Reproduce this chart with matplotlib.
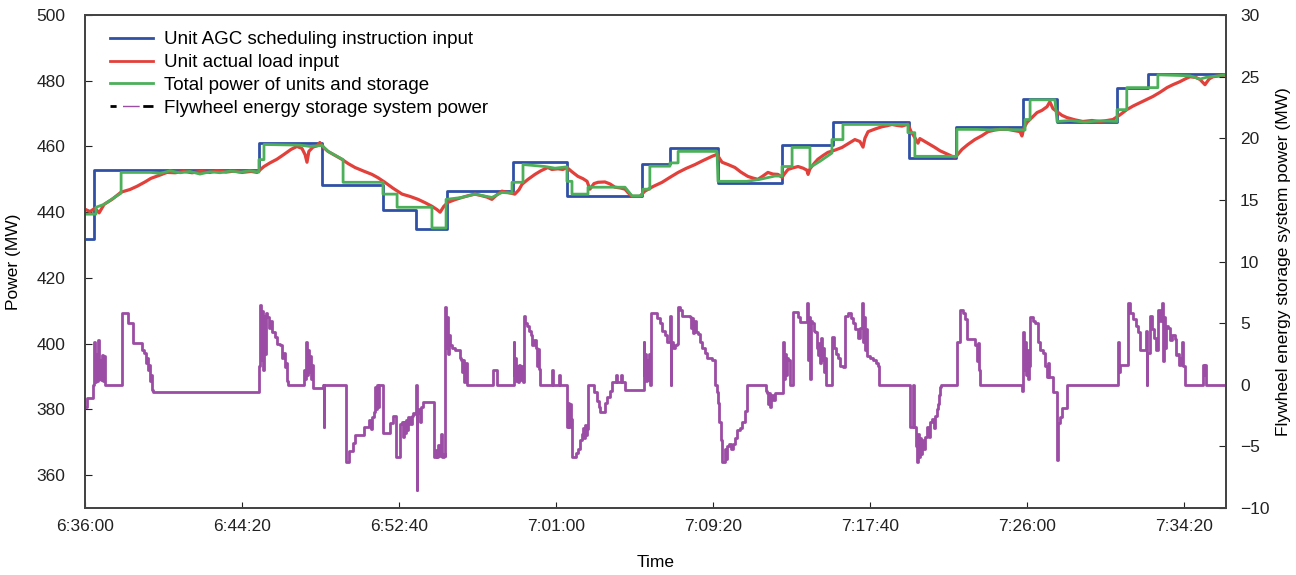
import matplotlib
matplotlib.use("Agg")
import matplotlib.pyplot as plt
from matplotlib.lines import Line2D
from matplotlib.ticker import FuncFormatter, MultipleLocator

plt.rcParams["font.family"] = ["Liberation Sans", "DejaVu Sans"]
plt.rcParams["font.size"] = 12.5

# --- data (time = seconds after 6:36:00) -----------------------------------
agc_t = [0, 29, 554, 755, 949, 1054, 1153, 1363, 1535, 1774, 1863, 2016, 2220,
         2382, 2624, 2774, 2987, 3096, 3287, 3385, 3634]
agc_p = [431.8, 452.7, 461.2, 448.2, 440.6, 434.8, 446.4, 455.2, 444.8, 454.8,
         459.4, 449.0, 460.4, 467.3, 456.4, 466.0, 474.5, 467.3, 477.9, 482.1, 482.1]

load_t = [0, 16, 32, 45, 61, 86, 115, 143, 166, 191, 210, 239, 261, 287, 315, 341,
          369, 398, 420, 449, 475, 500, 529, 548, 570, 589, 611, 634, 656, 675, 691,
          701, 707, 713, 726, 739, 748, 761, 774, 796, 818, 838, 860, 885, 914, 933,
          955, 981, 1010, 1035, 1061, 1083, 1105, 1121, 1131, 1143, 1156, 1178, 1201,
          1220, 1242, 1264, 1280, 1296, 1312, 1328, 1347, 1369, 1382, 1392, 1411, 1433,
          1452, 1474, 1487, 1506, 1522, 1535, 1551, 1570, 1586, 1599, 1608, 1621, 1634,
          1656, 1672, 1688, 1704, 1720, 1729, 1742, 1767, 1783, 1809, 1838, 1863, 1889,
          1914, 1943, 1968, 1997, 2013, 2022, 2029, 2048, 2070, 2089, 2111, 2127, 2143,
          2159, 2175, 2191, 2207, 2220, 2229, 2239, 2255, 2271, 2287, 2299, 2303, 2309,
          2322, 2334, 2350, 2366, 2389, 2411, 2430, 2452, 2468, 2478, 2484, 2494, 2516,
          2538, 2554, 2570, 2586, 2602, 2621, 2631, 2643, 2653, 2659, 2675, 2691, 2707,
          2723, 2739, 2755, 2761, 2771, 2780, 2793, 2812, 2834, 2857, 2876, 2898, 2914,
          2939, 2962, 2978, 2984, 2990, 3000, 3016, 3032, 3048, 3064, 3073, 3083, 3096,
          3111, 3127, 3153, 3178, 3207, 3232, 3255, 3274, 3296, 3318, 3338, 3360, 3382,
          3401, 3424, 3446, 3465, 3487, 3503, 3519, 3538, 3551, 3567, 3580, 3592, 3615,
          3634]
load_p = [440.9, 440.2, 441.2, 439.8, 442.4, 443.9, 446.1, 446.9, 447.9, 449.2, 450.3,
          451.3, 452.1, 452.0, 452.4, 452.0, 452.4, 452.1, 452.6, 452.2, 452.5, 452.1,
          452.4, 452.1, 453.9, 455.0, 456.1, 457.6, 459.1, 460.0, 459.4, 457.5, 455.2,
          458.5, 459.8, 460.2, 461.2, 459.6, 458.5, 457.3, 456.1, 454.8, 453.6, 452.6,
          451.5, 450.5, 449.1, 447.3, 445.5, 444.8, 443.9, 442.9, 441.8, 440.8, 440.0,
          441.8, 443.0, 443.8, 444.5, 445.0, 445.5, 445.0, 444.6, 443.9, 445.3, 446.4,
          446.0, 445.5, 446.8, 448.5, 450.0, 451.5, 452.6, 453.6, 453.0, 453.2, 453.0,
          453.6, 452.3, 450.9, 450.2, 449.4, 447.0, 448.7, 449.1, 449.2, 448.6, 447.6,
          447.4, 447.0, 446.0, 444.8, 444.8, 446.4, 447.8, 449.1, 450.6, 452.1, 453.3,
          454.5, 455.7, 457.0, 457.6, 456.2, 455.2, 454.5, 453.6, 452.2, 450.9, 450.4,
          450.0, 451.0, 452.1, 451.6, 451.5, 450.6, 451.8, 453.0, 453.5, 453.9, 453.4,
          452.8, 451.5, 453.2, 454.8, 456.1, 457.2, 458.2, 458.9, 459.7, 460.8, 462.1,
          461.5, 459.8, 462.5, 464.5, 465.3, 466.0, 466.3, 466.7, 466.4, 466.2, 466.8,
          464.5, 462.7, 461.0, 462.4, 461.5, 460.6, 459.7, 458.7, 458.0, 457.3, 457.0,
          456.8, 457.6, 459.1, 460.6, 462.1, 463.3, 464.5, 465.0, 465.2, 465.2, 464.8,
          464.5, 463.2, 465.5, 467.3, 468.8, 470.3, 471.0, 472.1, 473.6, 471.5, 470.6,
          469.5, 468.8, 468.1, 467.6, 467.9, 467.6, 467.9, 468.2, 469.6, 471.2, 472.3,
          473.3, 474.3, 475.2, 476.5, 477.9, 478.8, 479.7, 480.5, 481.2, 481.0, 480.4,
          478.8, 480.5, 481.2, 481.5, 481.8]

total_t = [0, 35, 35, 61, 86, 115, 115, 210, 239, 271, 303, 334, 366, 398, 430, 462,
           494, 525, 554, 554, 570, 570, 685, 717, 755, 774, 822, 822, 949, 949, 994,
           994, 1105, 1105, 1150, 1150, 1201, 1242, 1296, 1328, 1360, 1360, 1395, 1395,
           1465, 1497, 1535, 1535, 1551, 1551, 1602, 1602, 1720, 1742, 1774, 1777, 1799,
           1799, 1863, 1863, 1889, 1889, 2013, 2016, 2108, 2150, 2197, 2220, 2220, 2252,
           2252, 2309, 2309, 2341, 2379, 2379, 2414, 2414, 2621, 2621, 2643, 2643, 2777,
           2777, 2844, 2882, 2914, 2994, 2994, 3010, 3010, 3089, 3096, 3137, 3185, 3232,
           3287, 3287, 3318, 3318, 3417, 3417, 3519, 3551, 3570, 3634]
total_p = [439.4, 439.4, 441.5, 442.4, 444.0, 445.8, 452.1, 452.1, 451.8, 452.6, 452.0,
           452.4, 451.6, 452.3, 452.0, 452.5, 452.2, 452.6, 452.2, 456.0, 456.0, 460.6,
           460.4, 460.0, 460.3, 458.5, 456.0, 449.1, 449.1, 445.5, 445.5, 441.5, 441.5,
           435.2, 435.2, 443.9, 444.5, 445.5, 444.5, 446.0, 445.8, 449.1, 449.1, 454.5,
           453.9, 453.4, 453.8, 449.4, 449.4, 445.5, 445.5, 447.6, 447.6, 445.0, 445.0,
           447.0, 447.0, 454.0, 454.0, 455.0, 455.0, 458.5, 458.5, 449.4, 449.4, 450.0,
           451.0, 451.0, 453.9, 453.9, 459.7, 459.7, 453.6, 455.5, 458.0, 462.1, 462.1,
           466.7, 466.7, 464.2, 464.2, 457.0, 457.0, 465.2, 465.2, 465.0, 465.2, 465.0,
           468.2, 468.2, 474.2, 474.2, 467.6, 467.9, 467.4, 467.8, 467.6, 471.2, 471.2,
           477.9, 477.9, 481.8, 481.5, 480.5, 481.0, 481.8]

fly_t = [0, 6, 6, 25, 25, 29, 32, 35, 38, 41, 45, 48, 51, 54, 57, 61, 64, 118, 118,
         137, 137, 153, 153, 175, 182, 188, 194, 197, 201, 204, 207, 210, 213, 217, 551,
         554, 557, 561, 564, 567, 570, 573, 576, 580, 586, 589, 596, 605, 611, 621, 627,
         631, 637, 640, 643, 646, 694, 697, 701, 704, 707, 710, 713, 717, 720, 723, 726,
         755, 758, 760, 761, 828, 830, 831, 838, 841, 850, 854, 860, 861, 885, 889, 901,
         904, 911, 914, 920, 924, 927, 930, 933, 936, 949, 950, 968, 971, 978, 981, 987,
         990, 1000, 1003, 1010, 1013, 1016, 1019, 1022, 1025, 1029, 1035, 1041, 1045,
         1051, 1054, 1056, 1057, 1064, 1067, 1070, 1076, 1108, 1111, 1118, 1121, 1124,
         1131, 1134, 1137, 1143, 1146, 1148, 1150, 1153, 1156, 1159, 1162, 1169, 1178,
         1188, 1194, 1197, 1201, 1204, 1207, 1210, 1217, 1296, 1299, 1309, 1312, 1363,
         1365, 1366, 1369, 1373, 1376, 1379, 1382, 1385, 1392, 1395, 1397, 1401, 1408,
         1414, 1420, 1424, 1430, 1436, 1439, 1443, 1446, 1449, 1484, 1487, 1490, 1506,
         1510, 1513, 1535, 1536, 1538, 1541, 1545, 1548, 1551, 1561, 1564, 1570, 1576,
         1583, 1586, 1589, 1592, 1596, 1599, 1602, 1618, 1621, 1631, 1637, 1640, 1653,
         1656, 1662, 1672, 1678, 1688, 1691, 1694, 1704, 1707, 1710, 1720, 1777, 1779,
         1780, 1783, 1787, 1790, 1793, 1796, 1799, 1802, 1818, 1822, 1831, 1838, 1847,
         1854, 1860, 1863, 1865, 1866, 1873, 1879, 1885, 1889, 1895, 1901, 1920, 1927,
         1930, 1933, 1936, 1939, 1946, 1952, 1959, 1965, 1975, 1981, 1997, 2006, 2013,
         2016, 2019, 2025, 2029, 2035, 2038, 2041, 2045, 2051, 2057, 2064, 2070, 2076,
         2086, 2092, 2102, 2108, 2110, 2166, 2169, 2172, 2175, 2178, 2182, 2185, 2191,
         2197, 2220, 2223, 2226, 2229, 2232, 2236, 2239, 2245, 2255, 2256, 2271, 2277,
         2287, 2299, 2303, 2306, 2309, 2312, 2315, 2322, 2325, 2331, 2334, 2338, 2341,
         2344, 2347, 2350, 2354, 2357, 2360, 2369, 2379, 2385, 2392, 2398, 2404, 2414,
         2420, 2430, 2439, 2446, 2452, 2462, 2468, 2475, 2478, 2481, 2484, 2487, 2490,
         2500, 2510, 2519, 2525, 2529, 2627, 2628, 2634, 2637, 2640, 2646, 2650, 2653,
         2656, 2659, 2662, 2666, 2669, 2675, 2681, 2688, 2691, 2697, 2704, 2707, 2713,
         2717, 2720, 2723, 2726, 2777, 2778, 2787, 2788, 2796, 2803, 2809, 2828, 2834,
         2841, 2844, 2847, 2850, 2984, 2985, 2987, 2990, 2994, 2997, 3000, 3003, 3006,
         3010, 3019, 3025, 3035, 3041, 3051, 3057, 3064, 3067, 3070, 3083, 3092, 3096,
         3099, 3105, 3111, 3127, 3128, 3290, 3291, 3293, 3296, 3315, 3322, 3328, 3338,
         3347, 3353, 3360, 3376, 3379, 3381, 3382, 3392, 3398, 3404, 3411, 3417, 3424,
         3430, 3433, 3436, 3439, 3443, 3449, 3455, 3462, 3471, 3475, 3481, 3484, 3490,
         3494, 3497, 3503, 3560, 3561, 3564, 3567, 3570, 3634]
fly_p = [-1.8, -1.8, -1.1, -1.1, 0, 3.5, 0.2, 2.5, 0.3, 3.6, 0.5, 2.0, 0.4, 2.4, 0.3,
         2.3, 0, 0, 5.8, 5.8, 5.0, 5.0, 3.4, 3.4, 2.8, 2.6, 1.8, 2.2, 1.2, 1.6, 0.3, 0.8,
         -0.4, -0.6, -0.6, 1.5, 6.5, 2.0, 6.0, 1.2, 5.6, 2.5, 5.8, 5.5, 4.6, 5.2, 4.3,
         3.9, 3.3, 3.2, 2.2, 2.6, 1.4, 1.8, 0.3, 0, 0, 1.2, 0.5, 3.5, 0.8, 2.8, 1.0, 2.3,
         0.5, 1.6, -0.3, -0.3, 0, -3.4, 0, 0, -2.3, -6.3, -6.3, -5.4, -5.4, -4.7, -4.7,
         -4.1, -4.1, -3.4, -3.4, -2.9, -3.6, -2.6, -2.2, -0.2, -2.0, 0, -1.8, 0, 0, -3.9,
         -3.9, -3.1, -3.1, -2.5, -2.5, -5.9, -5.9, -3.2, -3.0, -4.2, -3.0, -3.9, -2.9,
         -3.7, -2.6, -3.2, -2.5, -2.3, -2.4, 0, -8.5, -2.3, -2.0, -3.0, -1.8, -1.4, -1.4,
         -5.9, -5.3, -5.9, -4.9, -5.8, -4.0, -5.9, -5.6, -5.8, 6.3, 3.0, 5.5, 2.5, 4.0,
         3.2, 3.0, 2.8, 2.8, 2.2, 2.0, 1.0, 2.0, 0.2, 1.8, 0, 0, 1.2, 1.2, 0, 0, 3.5, 0.8,
         2.2, 0.3, 1.5, 0.2, 1.6, 0.4, 1.5, 0.2, 5.6, 5.0, 4.8, 4.4, 4.0, 3.2, 3.6, 3.0,
         1.5, 2.9, 1.3, 0, 0, 1.2, 0, 0, 0.8, 0, 0, -3.4, -1.5, -3.4, -1.6, -2.8, -5.9,
         -5.9, -5.5, -5.2, -4.5, -4.0, -3.5, -4.3, -3.3, -4.1, -3.6, 0, 0, -0.6, -1.3,
         -1.8, -2.2, -2.2, -1.5, -1.0, -0.5, 0.2, 0.2, 0.8, 0.2, 0.2, 0.8, 0.2, -0.4,
         -0.4, 3.5, 0.8, 2.5, 0.3, 2.0, 0.4, 2.5, 0, 5.8, 5.8, 5.4, 5.0, 4.4, 4.0, 3.5,
         3.5, 5.6, 0, 3.5, 3.0, 3.2, 3.3, 6.3, 6.1, 5.6, 5.6, 5.5, 4.6, 5.4, 4.2, 5.2,
         4.3, 4.1, 3.5, 3.0, 2.6, 2.2, 2.0, 0, -0.6, -1.5, -3.0, -4.5, -6.3, -6.3, -5.2,
         -6.0, -5.0, -4.8, -5.2, -4.8, -4.3, -3.7, -3.5, -3.0, -2.1, -2.1, 0, 0, -0.5,
         -0.7, -1.6, -0.7, -1.8, -0.8, -1.2, -0.7, -0.7, 3.5, 0.5, 2.5, 0.8, 2.2, 2.0, 0,
         0, 5.9, 5.5, 5.1, 5.1, 6.6, 2.0, 5.5, 0.5, 5.2, 5.0, 4.4, 4.3, 3.0, 2.4, 3.4,
         1.8, 3.8, 2.0, 3.0, 1.0, 2.2, 0, 0, 3.9, 3.0, 2.5, 2.2, 1.5, 1.4, 5.6, 5.8, 5.4,
         5.0, 4.5, 3.8, 4.6, 6.6, 3.5, 5.5, 2.8, 4.5, 2.3, 2.2, 2.0, 1.8, 1.5, 0, 0, -3.4,
         -3.4, 0, -3.4, -5.0, -6.3, -4.0, -5.9, -4.3, -5.6, -4.5, -5.2, -4.2, -3.4, -4.2,
         -3.0, -2.8, -3.5, -2.5, -2.0, -1.6, -0.8, -0.2, 0, 0, 3.5, 3.5, 6.1, 5.8, 5.3,
         3.7, 3.7, 3.2, 1.9, 3.4, 1.2, 0, 0, -0.5, 4.3, 1.2, 3.5, 0.8, 2.8, 0.5, 1.5, 5.5,
         5.2, 5.0, 3.5, 2.8, 2.6, 1.5, 0.6, 1.8, 0.6, -0.6, -0.6, -6.1, -3.1, -2.6, -1.9,
         -1.9, 0, 0, 3.5, 1.0, 1.6, 1.6, 6.6, 5.8, 5.3, 4.8, 4.3, 2.8, 2.8, 4.4, 0, 2.6,
         5.6, 4.5, 3.8, 2.8, 6.1, 5.2, 6.6, 1.9, 5.5, 3.0, 4.8, 4.6, 3.6, 4.0, 3.7, 2.4,
         2.5, 1.6, 2.2, 3.5, 1.5, 0, 0, 1.6, 0.8, 1.6, 0, 0]

x_ticks = [0, 500, 1000, 1500, 2000, 2500, 3000, 3500]

C_BLUE = "#3050a6"
C_RED = "#e2403a"
C_GREEN = "#4caf5a"
C_PURPLE = "#9b4ca4"
C_FRAME = "#444444"


def clock(x, pos=None):
    s = int(round(6 * 3600 + 36 * 60 + x))
    return f"{s // 3600}:{(s % 3600) // 60:02d}:{s % 60:02d}"


fig = plt.figure(figsize=(12.96, 5.75), dpi=100)
ax = fig.add_axes([85 / 1296, 1 - 508 / 575, 1141 / 1296, 493 / 575])
ax2 = ax.twinx()

ax.step(agc_t, agc_p, where="post", color=C_BLUE, lw=2.0)
ax.plot(load_t, load_p, color=C_RED, lw=2.3)
ax.plot(total_t, total_p, color=C_GREEN, lw=2.0)
ax2.step(fly_t, fly_p, where="post", color=C_PURPLE, lw=2.0)

ax.set_xlim(0, 3634)
ax.set_ylim(350, 500)
ax2.set_ylim(-10, 30)
ax.set_xticks(x_ticks)
ax.xaxis.set_major_formatter(FuncFormatter(clock))
ax.set_yticks(range(360, 501, 20))
ax2.yaxis.set_major_locator(MultipleLocator(5))

ax.tick_params(axis="x", direction="in", length=4, pad=8, colors="#222222")
ax.tick_params(axis="y", direction="in", length=5, pad=14, colors="#222222")
ax2.tick_params(axis="y", direction="in", length=5, pad=10, colors="#222222")
for a in (ax, ax2):
    for sp in a.spines.values():
        sp.set_color(C_FRAME)
        sp.set_linewidth(1.3)

ax.set_xlabel("Time", labelpad=15)
ax.set_ylabel("Power (MW)", labelpad=11)
ax2.set_ylabel("Flywheel energy storage system power (MW)", labelpad=5)

# legend handles
h_agc = Line2D([], [], color=C_BLUE, lw=2)
h_load = Line2D([], [], color=C_RED, lw=2)
h_total = Line2D([], [], color=C_GREEN, lw=2)
h_fly_dash = Line2D([], [], color="black", lw=2, linestyle=(0, (2.2, 9.6, 4, 50)))
h_fly_line = Line2D([], [], color=C_PURPLE, lw=1, linestyle=(0, (0.001, 9, 12, 100)))
ax2.legend([h_agc, h_load, h_total, (h_fly_dash, h_fly_line)],
           ["Unit AGC scheduling instruction input", "Unit actual load input",
            "Total power of units and storage", "Flywheel energy storage system power"],
           loc="upper left", bbox_to_anchor=(0.022, 0.967), frameon=False,
           borderpad=0, borderaxespad=0, handlelength=2.3, handletextpad=0.55,
           labelspacing=0.3, fontsize=13.5)

fig.savefig("out.png", dpi=100)
